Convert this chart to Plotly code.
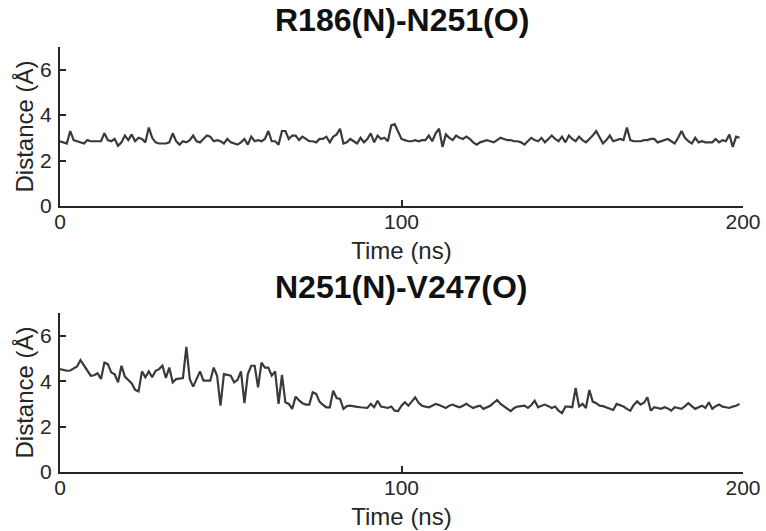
import plotly.graph_objects as go

time_ns = list(range(0, 200))

r186_n251 = [
    2.85, 2.8, 2.75, 3.3, 2.9, 2.85, 2.8, 2.75, 2.9, 2.85,
    2.85, 2.85, 2.85, 3.2, 2.9, 2.85, 2.95, 2.65, 2.8, 3.1,
    2.9, 3.15, 2.85, 3.0, 2.95, 2.8, 3.45, 3.0, 2.8, 2.75,
    2.75, 2.75, 2.8, 3.2, 2.85, 2.7, 2.85, 2.8, 2.9, 3.1,
    2.85, 2.8, 2.95, 3.1, 3.05, 2.85, 2.9, 2.85, 2.75, 2.95,
    2.8, 2.75, 2.7, 2.8, 2.95, 2.7, 3.05, 2.85, 2.9, 2.85,
    2.95, 3.3, 2.85, 2.85, 2.7, 3.3, 3.3, 2.95, 3.1, 3.1,
    2.9, 3.05, 2.95, 2.85, 2.85, 2.8, 2.95, 2.95, 3.05, 2.8,
    3.05, 3.15, 3.4, 2.75, 2.8, 2.95, 2.85, 2.75, 3.0, 2.8,
    2.95, 3.2, 2.8, 3.1, 2.95, 3.0, 2.85, 3.55, 3.6, 3.3,
    2.95, 2.9, 2.85, 2.85, 2.9, 2.85, 2.9, 2.9, 3.1, 2.85,
    3.2, 3.4, 2.6, 3.15, 3.0, 2.9, 3.1, 3.0, 2.95, 3.05,
    2.95, 2.8, 2.7, 2.8, 2.85, 2.9, 2.85, 2.8, 2.9, 3.0,
    2.95, 2.9, 2.9, 2.85, 2.85, 2.8, 2.7, 2.85, 3.0, 2.9,
    2.85, 3.0, 2.8, 2.95, 3.1, 2.95, 2.85, 3.05, 2.8, 3.1,
    2.95, 2.85, 3.05, 2.9, 2.8, 2.95, 3.1, 3.3, 3.0, 2.75,
    2.9, 3.1, 2.85, 2.9, 2.95, 2.9, 3.45, 2.9, 2.85, 2.85,
    2.85, 2.9, 2.9, 2.95, 2.95, 2.8, 2.85, 2.9, 2.95, 2.85,
    2.75, 3.0, 3.3, 3.0, 2.85, 2.75, 3.0, 2.8, 2.85, 2.8,
    2.8, 2.8, 2.95, 2.8, 2.9, 2.85, 3.15, 2.6, 3.05, 3.0,
]

n251_v247 = [
    4.53, 4.48, 4.46, 4.47, 4.58, 4.65, 4.93, 4.7, 4.45, 4.24,
    4.26, 4.35, 4.1, 4.82, 4.75, 4.39, 4.3, 3.95, 4.68, 4.2,
    4.05, 3.9, 3.62, 3.55, 4.43, 4.17, 4.43, 4.17, 4.46, 4.53,
    4.68, 4.14, 4.6, 3.95, 4.09, 4.12, 4.14, 5.51, 4.09, 3.76,
    4.1, 4.43, 4.02, 4.02, 4.02, 4.6, 4.24, 2.92, 4.31, 4.28,
    4.24, 3.95, 4.06, 4.43, 3.03, 4.31, 4.68, 4.68, 3.73, 4.82,
    4.6, 4.6, 4.24, 4.43, 3.0, 4.28, 3.07, 3.0, 2.78, 3.32,
    3.15, 3.03, 2.97, 2.97, 3.51, 3.44, 3.1, 2.95, 2.85, 2.85,
    3.58, 3.26, 3.22, 2.78, 2.9, 2.92, 2.88, 2.87, 2.85, 2.84,
    2.82, 3.0, 2.85, 3.14, 2.88, 2.85, 2.82, 2.88, 2.7, 2.68,
    2.92, 3.07, 2.92, 3.1, 3.29, 3.05, 2.92, 2.88, 2.85, 2.92,
    3.0, 2.95, 2.88, 2.82, 2.92, 2.97, 2.9, 2.85, 2.92, 3.0,
    2.9, 2.82, 2.88, 2.92, 2.78, 2.85, 2.92, 3.05, 3.17, 3.0,
    2.88, 2.8, 2.68, 2.82, 2.88, 2.9, 2.92, 2.82, 2.95, 3.14,
    2.85, 2.92, 2.97, 2.9, 2.82, 2.88, 2.7, 2.59, 2.88, 2.88,
    2.85, 3.7, 2.88, 3.0, 2.82, 3.61, 3.1, 3.03, 2.92, 2.9,
    2.85, 2.8, 2.73, 3.0, 2.95, 2.88, 2.78, 2.7, 2.95, 3.11,
    2.97, 3.05, 3.29, 2.7, 2.85, 2.82, 2.78, 2.85, 2.8, 2.7,
    2.85, 2.82, 2.78, 2.9, 3.03, 2.9, 2.78, 2.85, 2.92, 2.82,
    3.07, 2.78, 2.9, 2.97, 2.88, 2.85, 2.82, 2.88, 2.92, 3.0,
]

titles = ["R186(N)-N251(O)", "N251(N)-V247(O)"]
x_ticks = [0, 100, 200]
y_ticks = [0, 2, 4, 6]

FONT = "Liberation Sans, Arial, sans-serif"
AX = "#262626"
LINE = "#3a3a3a"

fig = go.Figure()
fig.add_trace(go.Scatter(x=time_ns, y=r186_n251, mode="lines",
                         line=dict(color=LINE, width=2.2), xaxis="x", yaxis="y",
                         showlegend=False))
fig.add_trace(go.Scatter(x=time_ns, y=n251_v247, mode="lines",
                         line=dict(color=LINE, width=2.2), xaxis="x2", yaxis="y2",
                         showlegend=False))

def xax(anchor):
    return dict(range=[0, 200], tickvals=x_ticks, ticks="inside", ticklen=6,
                tickwidth=1.5, tickcolor=AX, showline=True, linecolor=AX,
                linewidth=2, showgrid=False, zeroline=False, anchor=anchor,
                ticklabelstandoff=-4,
                tickfont=dict(size=21, color=AX, family=FONT),
                title=dict(text="Time (ns)", font=dict(size=24, color=AX, family=FONT),
                           standoff=10),
                automargin=False)

def yax(anchor, domain):
    return dict(range=[0, 7], tickvals=y_ticks, ticks="inside", ticklen=6,
                tickwidth=1.5, tickcolor=AX, showline=True, linecolor=AX,
                linewidth=2, showgrid=False, zeroline=False, anchor=anchor,
                domain=domain, ticklabelstandoff=2,
                tickfont=dict(size=21, color=AX, family=FONT),
                title=dict(text="Distance (Å)", font=dict(size=24, color=AX, family=FONT),
                           standoff=0),
                automargin=False)

fig.update_layout(
    width=766, height=531,
    margin=dict(l=60, r=23, t=47, b=59),
    paper_bgcolor="white", plot_bgcolor="white",
    xaxis=xax("y"), yaxis=yax("x", [0.626, 1.0]),
    xaxis2=xax("y2"), yaxis2=yax("x2", [0.0, 0.374]),
    annotations=[
        dict(text="<b>%s</b>" % titles[0], x=0.5, y=1.0635, xref="paper", yref="paper",
             showarrow=False, xanchor="center", yanchor="middle",
             font=dict(size=32, color="#111111", family=FONT)),
        dict(text="<b>%s</b>" % titles[1], x=0.5, y=0.435, xref="paper", yref="paper",
             showarrow=False, xanchor="center", yanchor="middle",
             font=dict(size=32, color="#111111", family=FONT)),
    ],
)

# Remove the browser's default 8px body margin so the figure sits at the
# top-left corner of the 766x531 window.
fig.write_html("out.html",
               config={"displayModeBar": False},
               post_script="document.body.style.margin='0px';"
                           "document.body.style.overflow='hidden';")
